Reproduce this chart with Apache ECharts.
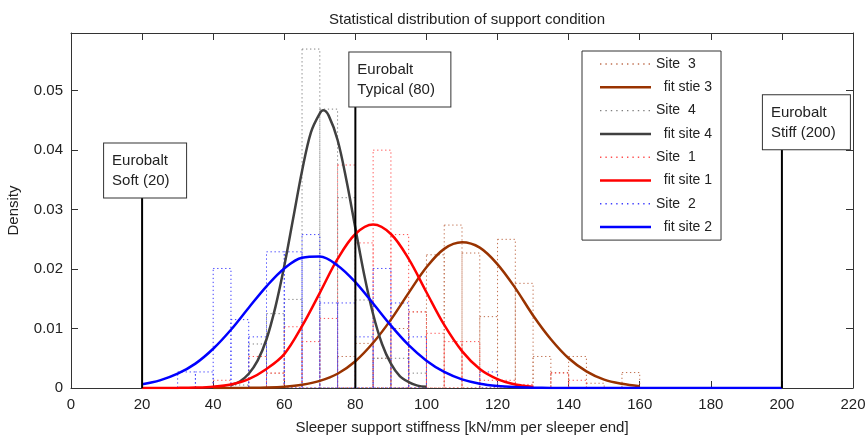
<!DOCTYPE html>
<html>
<head>
<meta charset="utf-8">
<script src="https://cdn.jsdelivr.net/npm/echarts@6.0.0/dist/echarts.min.js"></script>
<style>
html,body{margin:0;padding:0;background:#fff;}
#chart{width:868px;height:439px;}
</style>
</head>
<body>
<div id="chart"></div>
<script>
// ---------------- data ----------------
const titleText = 'Statistical distribution of support condition';
const xAxisName = 'Sleeper support stiffness [kN/mm per sleeper end]';
const yAxisName = 'Density';
const xMin = 0, xMax = 220, xStep = 20;
const yMin = 0, yMax = 0.0597, yStep = 0.01;

const seriesNames = ['Site  3', '  fit stie 3', 'Site  4', '  fit site 4', 'Site  1', '  fit site 1', 'Site  2', '  fit site 2'];

// histogram bins (left edges), width 5
const binWidth = 5;
const binLeft = [25,30,35,40,45,50,55,60,65,70,75,80,85,90,95,100,105,110,115,120,125,130,135,140,145,150,155,160];
const site3Hist = [0,0,0,0,0,0,0.0025,0,0,0,0.0053,0.0075,0.005,0.010,0.0128,0.0224,0.0274,0.0227,0.012,0.025,0.0176,0.0053,0.0026,0.0053,0.0008,0,0.0026,0];
const site4Hist = [0,0,0,0,0.0005,0.0074,0.0125,0.0149,0.057,0.0469,0.032,0.0148,0.005,0.005,0.0025,0,0,0,0,0,0,0,0,0,0,0,0,0];
const site1Hist = [0,0,0,0.0013,0,0.0053,0.0025,0.0103,0.0078,0.0117,0.0375,0.0244,0.040,0.0258,0.0128,0.0092,0.0078,0.0078,0.0013,0.0013,0.0006,0,0.0025,0.0013,0,0,0,0];
const site2Hist = [0,0.0027,0.0027,0.0201,0.0115,0.0086,0.0229,0.0229,0.0258,0.0143,0.0143,0.0086,0.0201,0.0143,0.0086,0,0,0,0.0027,0,0,0,0,0,0,0,0,0];

// fitted densities
const fit3X = [40,45,50,55,60,65,70,75,80,85,90,95,100,105,110,115,120,125,130,135,140,145,150,155,160];
const fit3Y = [0,0.00001,0.00003,0.00008,0.00022,0.00054,0.0012,0.0024,0.0045,0.0076,0.0115,0.0160,0.0203,0.0234,0.0245,0.0236,0.0208,0.0168,0.0122,0.0082,0.0050,0.0028,0.0014,0.0007,0.0003];
const fit4X = [45,47.5,50,52.5,55,57.5,60,62.5,65,67.5,70,71,72.5,75,77.5,80,82.5,85,87.5,90,92.5,95,97.5,100];
const fit4Y = [0.0005,0.0011,0.0024,0.0046,0.0082,0.0136,0.0205,0.0285,0.0365,0.0430,0.0462,0.0467,0.0458,0.0417,0.0349,0.0269,0.0190,0.0124,0.0074,0.0041,0.0020,0.0010,0.0004,0.0002];
const fit1X = [20,25,30,35,40,45,50,55,60,65,70,75,80,85,90,95,100,105,110,115,120,125,130];
const fit1Y = [0,0.00001,0.00002,0.00007,0.00022,0.0006,0.0015,0.0032,0.0057,0.0104,0.0160,0.0217,0.0259,0.0275,0.0259,0.0217,0.0161,0.0106,0.0062,0.0032,0.0015,0.0006,0.00022];
const fit2X = [20,25,30,35,40,45,50,55,60,65,70,75,80,85,90,95,100,105,110,115,120,125,130,135,140,145,150,155,160,165,170,175,180,185,190,195,200];
const fit2Y = [0.00063,0.00128,0.0024,0.0041,0.0066,0.0098,0.0135,0.0171,0.0201,0.0219,0.0221,0.0206,0.0178,0.0142,0.0105,0.0072,0.0046,0.0027,0.00146,0.00073,0.00034,0.00015,0.00006,0.00002,0,0,0,0,0,0,0,0,0,0,0,0,0];

// Eurobalt reference stiffness annotations
const annX = [20, 80, 200];
const annTop = [0.0322, 0.0475, 0.0403];
const annText = ['Eurobalt\nSoft (20)', 'Eurobalt\nTypical (80)', 'Eurobalt\nStiff (200)'];

// ---------------- styles ----------------
const FONT = 'Liberation Sans, Arial, sans-serif';
const TXT = '#222';
const histColors = {s3: '#c07050', s4: '#808080', s1: '#ff5050', s2: '#4040ff'};
const fitColors = {s3: '#993300', s4: '#404040', s1: '#ff0000', s2: '#0000ff'};
const annDx = [-38, -6, -19];
const annW = [66, 85, 71];

function histData(h) { return binLeft.map((x, i) => [x, h[i]]); }
function fitData(xs, ys) { return xs.map((x, i) => [x, ys[i]]); }

function histSeries(name, hist, color) {
  return {
    type: 'custom', name: name, data: histData(hist), encode: {x: 0, y: 1}, clip: true,
    renderItem: function (params, api) {
      const x0 = api.value(0), h = api.value(1);
      if (!h) return null;
      const a = api.coord([x0, 0]);
      const b = api.coord([x0 + binWidth, h]);
      return {type: 'rect', silent: true,
        shape: {x: a[0], y: b[1], width: b[0] - a[0], height: a[1] - b[1]},
        style: {fill: null, stroke: color, lineWidth: 1, lineDash: [1.3, 2.7]}};
    }
  };
}
function fitSeries(name, xs, ys, color) {
  return {type: 'line', name: name, data: fitData(xs, ys), symbol: 'none', showSymbol: false, smooth: 0.35,
    lineStyle: {color: color, width: 2.5}, itemStyle: {color: color}};
}

function dotIcon() {
  let p = 'path://M0 0 M51 14';
  for (let i = 0; i < 10; i++) { const x = (i * 5.4).toFixed(2); p += ' M' + x + ' 6.3h1.4v1.4h-1.4z'; }
  return p;
}
function lineIcon() {
  return 'path://M0 0 M51 14 M0 5.75h51v2.5h-51z';
}

const chart = echarts.init(document.getElementById('chart'), null, {renderer: 'canvas'});
const axisCommon = {
  axisLine: {show: true, onZero: false, lineStyle: {color: '#333', width: 1}},
  axisTick: {show: true, inside: true, length: 7, lineStyle: {color: '#333'}},
  splitLine: {show: false}
};
const option = {
  animation: false,
  backgroundColor: '#fff',
  title: {text: titleText, left: 462, top: 7, textAlign: 'center',
    textStyle: {fontFamily: FONT, fontSize: 15, fontWeight: 'normal', color: TXT}},
  grid: {left: 71, right: 15, top: 33, bottom: 51, containLabel: false, outerBoundsMode: 'none'},
  xAxis: [
    Object.assign({type: 'value', min: xMin, max: xMax, interval: xStep, position: 'bottom',
      name: xAxisName, nameLocation: 'middle', nameGap: 32,
      nameTextStyle: {fontFamily: FONT, fontSize: 15, color: TXT},
      axisLabel: {fontFamily: FONT, fontSize: 15, color: TXT, margin: 9}}, axisCommon),
    Object.assign({type: 'value', min: xMin, max: xMax, interval: xStep, position: 'top',
      axisLabel: {show: false}}, axisCommon)
  ],
  yAxis: [
    Object.assign({type: 'value', min: yMin, max: yMax, interval: yStep, position: 'left',
      name: yAxisName, nameLocation: 'middle', nameGap: 50,
      nameTextStyle: {fontFamily: FONT, fontSize: 15, color: TXT},
      axisLabel: {fontFamily: FONT, fontSize: 15, color: TXT, margin: 8, showMaxLabel: false}}, axisCommon),
    Object.assign({type: 'value', min: yMin, max: yMax, interval: yStep, position: 'right',
      axisLabel: {show: false}}, axisCommon)
  ],
  legend: {
    orient: 'vertical', left: 582, top: 51, itemWidth: 51, itemHeight: 14, itemGap: 9.3,
    padding: [6, 9, 6, 18], borderColor: '#333', borderWidth: 1, backgroundColor: '#fff',
    selectedMode: false, textStyle: {fontFamily: FONT, fontSize: 14, color: TXT},
    data: [
      {name: seriesNames[0], icon: dotIcon(), itemStyle: {color: histColors.s3}},
      {name: seriesNames[1], icon: lineIcon(), itemStyle: {color: fitColors.s3}},
      {name: seriesNames[2], icon: dotIcon(), itemStyle: {color: histColors.s4}},
      {name: seriesNames[3], icon: lineIcon(), itemStyle: {color: fitColors.s4}},
      {name: seriesNames[4], icon: dotIcon(), itemStyle: {color: histColors.s1}},
      {name: seriesNames[5], icon: lineIcon(), itemStyle: {color: fitColors.s1}},
      {name: seriesNames[6], icon: dotIcon(), itemStyle: {color: histColors.s2}},
      {name: seriesNames[7], icon: lineIcon(), itemStyle: {color: fitColors.s2}}
    ]
  },
  series: [
    histSeries(seriesNames[0], site3Hist, histColors.s3),
    fitSeries(seriesNames[1], fit3X, fit3Y, fitColors.s3),
    histSeries(seriesNames[2], site4Hist, histColors.s4),
    fitSeries(seriesNames[3], fit4X, fit4Y, fitColors.s4),
    histSeries(seriesNames[4], site1Hist, histColors.s1),
    fitSeries(seriesNames[5], fit1X, fit1Y, fitColors.s1),
    histSeries(seriesNames[6], site2Hist, histColors.s2),
    fitSeries(seriesNames[7], fit2X, fit2Y, fitColors.s2),
    {
      type: 'custom', name: 'annotations', z: 5,
      data: annX.map((x, i) => [x, annTop[i]]), encode: {x: 0, y: 1},
      renderItem: function (params, api) {
        const i = params.dataIndex;
        const a = api.coord([api.value(0), 0]);
        const b = api.coord([api.value(0), api.value(1)]);
        return {type: 'group', children: [
          {type: 'line', shape: {x1: a[0], y1: a[1], x2: b[0], y2: b[1]},
            style: {stroke: '#000', lineWidth: 2}},
          {type: 'text', x: b[0] + annDx[i], y: b[1] + 1,
            style: {text: annText[i], font: '15px ' + FONT, fill: TXT, align: 'left', verticalAlign: 'bottom',
              backgroundColor: '#fff', borderColor: '#333', borderWidth: 1, padding: [7, 8, 7, 8],
              lineHeight: 20, width: annW[i]}}
        ]};
      }
    }
  ]
};
chart.setOption(option);
</script>
</body>
</html>
